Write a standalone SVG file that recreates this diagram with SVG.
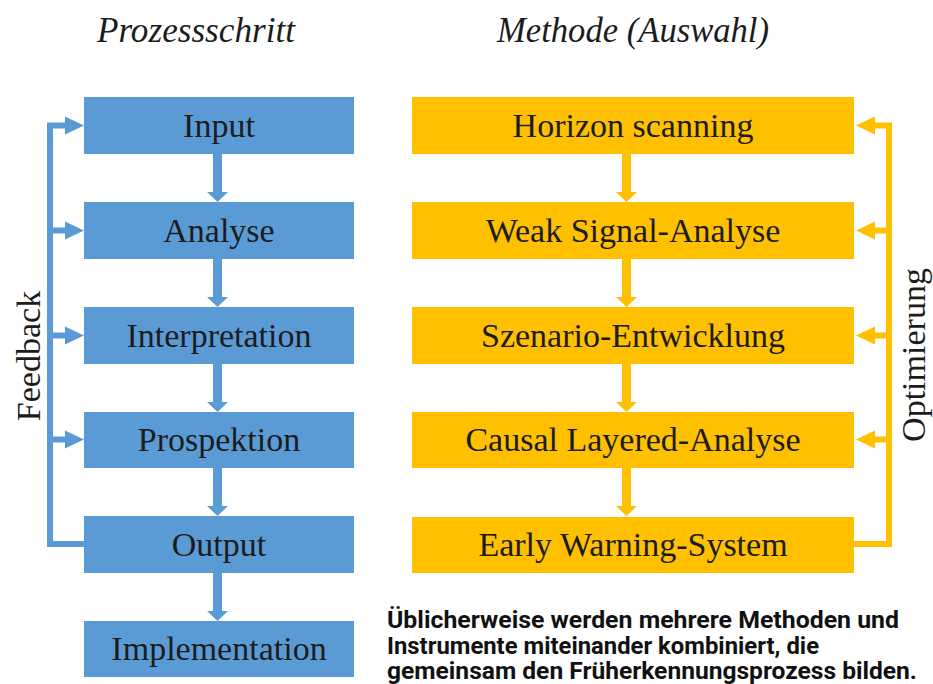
<svg xmlns="http://www.w3.org/2000/svg" width="933" height="684" viewBox="0 0 933 684">
<defs>
<style>
.bb{fill:#5b9bd5}
.yb{fill:#ffc000}
.t{font-family:"Liberation Serif",serif;font-size:34px;fill:#1c1c1c;text-anchor:middle}
.ti{font-family:"Liberation Serif",serif;font-size:35px;font-style:italic;fill:#1c1c1c;text-anchor:middle}
.note{font-family:Roboto,"Liberation Sans",sans-serif;font-size:23px;font-weight:bold;fill:#111}
.bl{fill:none;stroke:#5b9bd5;stroke-width:6}
.yl{fill:none;stroke:#ffc000;stroke-width:6}
</style>
</defs>
<rect width="933" height="684" fill="#fff"/>
<text class="ti" x="196" y="42" textLength="198" lengthAdjust="spacingAndGlyphs">Prozessschritt</text>
<text class="ti" x="633" y="42" textLength="272" lengthAdjust="spacingAndGlyphs">Methode (Auswahl)</text>

<g id="connectors">
  <g class="bb">
    <rect x="213" y="154" width="9" height="38"/><polygon points="207,192 228,192 217.5,202"/>
    <rect x="213" y="259" width="9" height="38"/><polygon points="207,297 228,297 217.5,307"/>
    <rect x="213" y="364" width="9" height="38"/><polygon points="207,402 228,402 217.5,412"/>
    <rect x="213" y="468" width="9" height="38"/><polygon points="207,506 228,506 217.5,516"/>
    <rect x="213" y="573" width="9" height="38"/><polygon points="207,611 228,611 217.5,621"/>
  </g>
  <path class="bl" d="M84,544 H50 V125.5 H66"/>
  <path class="bl" d="M50,230.5 H66 M50,335.5 H66 M50,439.5 H66"/>
  <g class="bb">
    <polygon points="65,116.5 84,125.5 65,134.5"/>
    <polygon points="65,221.5 84,230.5 65,239.5"/>
    <polygon points="65,326.5 84,335.5 65,344.5"/>
    <polygon points="65,430.5 84,439.5 65,448.5"/>
  </g>
  <g class="yb">
    <rect x="622" y="154" width="9" height="38"/><polygon points="616,192 637,192 626.5,202"/>
    <rect x="622" y="259" width="9" height="38"/><polygon points="616,297 637,297 626.5,307"/>
    <rect x="622" y="364" width="9" height="38"/><polygon points="616,402 637,402 626.5,412"/>
    <rect x="622" y="468" width="9" height="38"/><polygon points="616,506 637,506 626.5,516"/>
  </g>
  <path class="yl" d="M854,544 H889 V125.5 H874"/>
  <path class="yl" d="M889,230.5 H874 M889,335.5 H874 M889,439.5 H874"/>
  <g class="yb">
    <polygon points="875,116.5 856,125.5 875,134.5"/>
    <polygon points="875,221.5 856,230.5 875,239.5"/>
    <polygon points="875,326.5 856,335.5 875,344.5"/>
    <polygon points="875,430.5 856,439.5 875,448.5"/>
  </g>
</g>

<g id="input"><rect class="bb" x="84" y="97" width="270" height="57"/><text class="t" x="219" y="137">Input</text></g>
<g id="analyse"><rect class="bb" x="84" y="202" width="270" height="57"/><text class="t" x="219" y="242">Analyse</text></g>
<g id="interpretation"><rect class="bb" x="84" y="307" width="270" height="57"/><text class="t" x="219" y="347">Interpretation</text></g>
<g id="prospektion"><rect class="bb" x="84" y="412" width="270" height="56"/><text class="t" x="219" y="451">Prospektion</text></g>
<g id="output"><rect class="bb" x="84" y="516" width="270" height="57"/><text class="t" x="219" y="556">Output</text></g>
<g id="implementation"><rect class="bb" x="84" y="621" width="270" height="56"/><text class="t" x="219" y="660">Implementation</text></g>

<g id="horizon"><rect class="yb" x="412" y="97" width="442" height="57"/><text class="t" x="633" y="137">Horizon scanning</text></g>
<g id="weak"><rect class="yb" x="412" y="202" width="442" height="57"/><text class="t" x="633" y="242">Weak Signal-Analyse</text></g>
<g id="szenario"><rect class="yb" x="412" y="307" width="442" height="57"/><text class="t" x="633" y="347">Szenario-Entwicklung</text></g>
<g id="causal"><rect class="yb" x="412" y="412" width="442" height="56"/><text class="t" x="633" y="451">Causal Layered-Analyse</text></g>
<g id="early"><rect class="yb" x="412" y="517" width="442" height="56"/><text class="t" x="633" y="556">Early Warning-System</text></g>

<text class="t" transform="translate(40,356) rotate(-90)">Feedback</text>
<text class="t" transform="translate(925,355) rotate(-90)">Optimierung</text>

<g id="note">
<text class="note" x="387" y="628" textLength="512" lengthAdjust="spacingAndGlyphs">Üblicherweise werden mehrere Methoden und</text>
<text class="note" x="387" y="654" textLength="432" lengthAdjust="spacingAndGlyphs">Instrumente miteinander kombiniert, die</text>
<text class="note" x="387" y="679" textLength="530" lengthAdjust="spacingAndGlyphs">gemeinsam den Früherkennungsprozess bilden.</text>
</g>
</svg>
